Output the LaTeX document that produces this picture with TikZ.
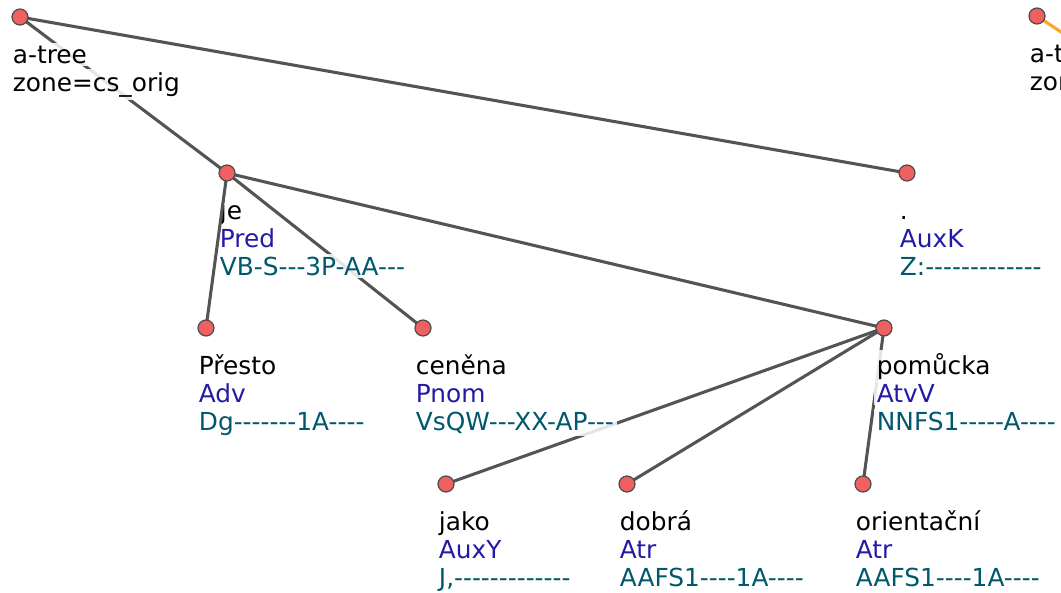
\documentclass[tikz,border=0pt]{standalone}
\usepackage{fontspec}
\newfontfamily\treefont{DejaVu Sans}
\definecolor{edgegray}{RGB}{84,84,84}
\definecolor{nodered}{RGB}{240,96,96}
\definecolor{afunblue}{RGB}{36,26,166}
\definecolor{tagteal}{RGB}{0,88,108}
\definecolor{zoneorange}{RGB}{247,168,40}

\begin{document}
\begin{tikzpicture}[x=0.75pt,y=-0.75pt,
  every node/.style={font=\treefont\fontsize{18.6}{21}\selectfont},
  tnode/.style={circle, draw=black!70, fill=nodered, line width=0.9pt, minimum size=12pt, inner sep=0pt},
  lbl/.style={anchor=base west, fill=white, fill opacity=0.85, text opacity=1, inner sep=2pt},
  dep/.style={draw=edgegray, line width=2.3pt}]
\useasboundingbox (0,0) rectangle (1061,593);
\clip (0,0) rectangle (1061,593);

\coordinate (root) at (20,17);
\coordinate (je) at (227,173);
\coordinate (dot) at (907,173);
\coordinate (presto) at (206,328);
\coordinate (cenena) at (423,328);
\coordinate (pomucka) at (884,328);
\coordinate (jako) at (446,484);
\coordinate (dobra) at (627,484);
\coordinate (orient) at (863,484);
\coordinate (root2) at (1037,16);
\coordinate (off2) at (1091,52);

\draw[dep] (root) -- (je);
\draw[dep] (je) -- (cenena);
\draw[dep] (pomucka) -- (jako);
\draw[dep] (pomucka) -- (dobra);
\draw[dep] (pomucka) -- (orient);
\draw[dep, draw=zoneorange] (root2) -- (off2);

\node[lbl] (root-w) at ([shift={(-10,46)}]root) {a-tree};
\node[lbl] (root-z) at ([shift={(-10,74)}]root) {zone=cs\_orig};
\node[lbl] (root2-w) at ([shift={(-10,46)}]root2) {a-tree};
\node[lbl] (root2-z) at ([shift={(-10,74)}]root2) {zone};

\foreach \n/\w/\a/\t in {je/je/Pred/{VB-S---3P-AA---},
    dot/./AuxK/{Z:-------------},
    presto/Přesto/Adv/{Dg-------1A----},
    cenena/ceněna/Pnom/{VsQW---XX-AP---},
    pomucka/pomůcka/AtvV/{NNFS1-----A----},
    jako/jako/AuxY/{J,-------------},
    dobra/dobrá/Atr/{AAFS1----1A----},
    orient/orientační/Atr/{AAFS1----1A----}}{
  \node[lbl] (\n-w) at ([shift={(-10,46)}]\n) {\w};
  \node[lbl, text=afunblue] (\n-a) at ([shift={(-10,74)}]\n) {\a};
  \node[lbl, text=tagteal] (\n-t) at ([shift={(-10,102)}]\n) {\t};
}

\draw[dep] (root) -- (dot);
\draw[dep] (je) -- (presto);
\draw[dep] (je) -- (pomucka);

\node[tnode] (root-n) at (root) {};
\node[tnode] (root2-n) at (root2) {};
\node[tnode] (je-n) at (je) {};
\node[tnode] (dot-n) at (dot) {};
\node[tnode] (presto-n) at (presto) {};
\node[tnode] (cenena-n) at (cenena) {};
\node[tnode] (pomucka-n) at (pomucka) {};
\node[tnode] (jako-n) at (jako) {};
\node[tnode] (dobra-n) at (dobra) {};
\node[tnode] (orient-n) at (orient) {};
\end{tikzpicture}
\end{document}
